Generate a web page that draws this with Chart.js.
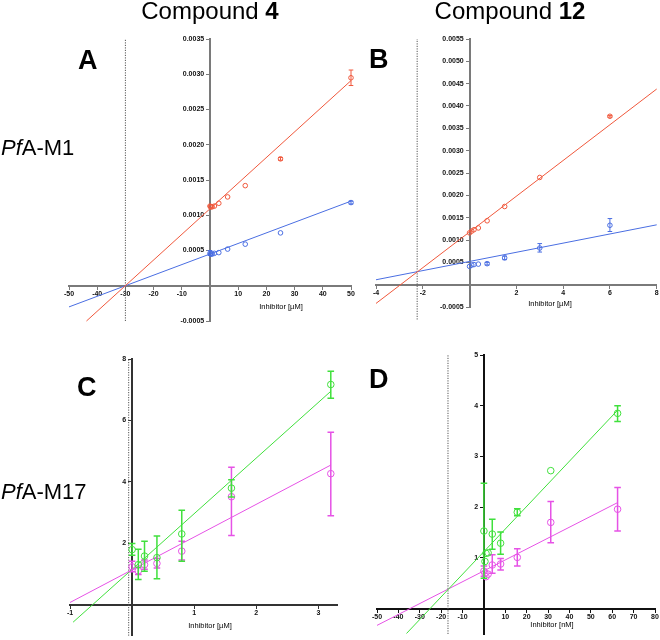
<!DOCTYPE html>
<html><head><meta charset="utf-8">
<script src="https://cdn.jsdelivr.net/npm/chart.js@4"></script>
<style>
html,body{margin:0;padding:0;background:#fff;}
#wrap{position:relative;width:660px;height:640px;overflow:hidden;font-family:"Liberation Sans",Arial,sans-serif;}
canvas{position:absolute;left:0;top:0;}
.t{position:absolute;white-space:nowrap;line-height:1;color:#000;}
</style></head><body>
<div id="wrap">
<canvas id="cA" width="660" height="640"></canvas>
<canvas id="cB" width="660" height="640"></canvas>
<canvas id="cC" width="660" height="640"></canvas>
<canvas id="cD" width="660" height="640"></canvas>
<div class="t" style="left:110px;top:-1px;width:200px;text-align:center;font-size:24px;">Compound <b>4</b></div>
<div class="t" style="left:410px;top:-1px;width:200px;text-align:center;font-size:24px;">Compound <b>12</b></div>
<div class="t" style="left:78px;top:47px;font-size:27px;font-weight:bold;">A</div>
<div class="t" style="left:369px;top:46px;font-size:27px;font-weight:bold;">B</div>
<div class="t" style="left:77px;top:374px;font-size:27px;font-weight:bold;">C</div>
<div class="t" style="left:369px;top:366px;font-size:27px;font-weight:bold;">D</div>
<div class="t" style="left:1px;top:137px;font-size:22px;"><i>Pf</i>A-M1</div>
<div class="t" style="left:1px;top:481px;font-size:22px;"><i>Pf</i>A-M17</div>
<div class="t" style="left:231px;top:303px;width:100px;text-align:center;font-size:7.5px;">Inhibitor [µM]</div>
<div class="t" style="left:500px;top:300px;width:100px;text-align:center;font-size:7.5px;">Inhibitor [µM]</div>
<div class="t" style="left:160px;top:622px;width:100px;text-align:center;font-size:7.5px;">Inhibitor [µM]</div>
<div class="t" style="left:502px;top:621px;width:100px;text-align:center;font-size:7.5px;">Inhibitor [nM]</div>
</div>
<script>
// ---------- Panel A: Compound 4, PfA-M1 ----------
const A_conc   = [0, 0.195, 0.39, 0.78, 1.5625, 3.125, 6.25, 12.5, 25, 50];
const A_red    = [0.00113, 0.00112, 0.00112, 0.00112, 0.00113, 0.00117, 0.00126, 0.00142, 0.00180, 0.00295];
const A_redLo  = [null, null, null, null, null, null, null, null, 0.00178, 0.00284];
const A_redHi  = [null, null, null, null, null, null, null, null, 0.00182, 0.00306];
const A_blue   = [0.00046, 0.00045, 0.00045, 0.00045, 0.00046, 0.00047, 0.00052, 0.00059, 0.00075, 0.00118];
const A_blueLo = [0.00043, null, null, null, null, null, null, null, null, 0.00116];
const A_blueHi = [0.00050, null, null, null, null, null, null, null, null, 0.00120];
const A_redFitX  = [-43.8, 50];
const A_redFitY  = [-0.0005, 0.00291];
const A_blueFitX = [-50, 50];
const A_blueFitY = [-0.0003, 0.0012];
const A_ki = -30;
const A_xTicks = [-50, -40, -30, -20, -10, 0, 10, 20, 30, 40, 50];
const A_yTicks = [-0.0005, 0, 0.0005, 0.001, 0.0015, 0.002, 0.0025, 0.003, 0.0035];

// ---------- Panel B: Compound 12, PfA-M1 ----------
const B_conc   = [0, 0.094, 0.1875, 0.375, 0.75, 1.5, 3, 6];
const B_red    = [0.00116, 0.00120, 0.00123, 0.00127, 0.00143, 0.00175, 0.00240, 0.00377];
const B_redLo  = [null, null, null, null, null, null, null, 0.00375];
const B_redHi  = [null, null, null, null, null, null, null, 0.00379];
const B_blue   = [0.00041, 0.00044, 0.00045, 0.00046, 0.00047, 0.00060, 0.00082, 0.00133];
const B_blueLo = [null, null, null, null, 0.00044, 0.00056, 0.00073, 0.00119];
const B_blueHi = [null, null, null, null, 0.00050, 0.00064, 0.00092, 0.00148];
const B_redFitX  = [-4, 8];
const B_redFitY  = [-0.00042, 0.00438];
const B_blueFitX = [-4, 8];
const B_blueFitY = [0.00011, 0.00134];
const B_ki = -2.24;
const B_xTicks = [-4, -2, 0, 2, 4, 6, 8];
const B_yTicks = [-0.0005, 0, 0.0005, 0.001, 0.0015, 0.002, 0.0025, 0.003, 0.0035, 0.004, 0.0045, 0.005, 0.0055];

// ---------- Panel C: Compound 4, PfA-M17 ----------
const C_conc   = [0, 0.1, 0.2, 0.4, 0.8, 1.6, 3.2];
const C_green  = [1.80, 1.31, 1.59, 1.54, 2.31, 3.80, 7.17];
const C_greenLo= [1.62, 0.83, 1.10, 0.85, 1.42, 3.51, 6.72];
const C_greenHi= [2.00, 1.81, 2.07, 2.24, 3.08, 4.07, 7.60];
const C_mag    = [1.24, 1.11, 1.31, 1.35, 1.75, 3.52, 4.27];
const C_magLo  = [1.08, 0.99, 1.16, 1.20, 1.46, 2.26, 2.90];
const C_magHi  = [1.42, 1.23, 1.46, 1.51, 2.07, 4.48, 5.62];
const C_greenFitX = [-0.95, 3.2];
const C_greenFitY = [-0.56, 6.95];
const C_magFitX   = [-1, 3.2];
const C_magFitY   = [0.08, 4.55];
const C_ki = -0.055;
const C_xTicks = [-1, 0, 1, 2, 3];
const C_yTicks = [0, 2, 4, 6, 8];

// ---------- Panel D: Compound 12, PfA-M17 ----------
const D_conc   = [0, 0.49, 0.98, 1.95, 3.9, 7.8, 15.6, 31.25, 62.5];
const D_green  = [1.53, 0.93, 1.09, 1.10, 1.47, 1.29, 1.90, 2.72, 3.85];
const D_greenLo= [0.60, null, null, null, 1.17, 1.07, 1.83, null, 3.69];
const D_greenHi= [2.47, null, null, null, 1.76, 1.51, 1.97, null, 4.00];
const D_mag    = [0.74, 0.70, 0.63, 0.68, 0.86, 0.88, 1.01, 1.70, 1.96];
const D_magLo  = [0.64, null, null, null, 0.70, 0.76, 0.84, 1.30, 1.53];
const D_magHi  = [0.84, null, null, null, 1.06, 0.99, 1.18, 2.11, 2.39];
const D_greenFitX = [-36.2, 62.5];
const D_greenFitY = [-0.49, 3.91];
const D_magFitX   = [-50, 62.5];
const D_magFitY   = [-0.33, 2.09];
const D_ki = -16.8;
const D_xTicks = [-50, -40, -30, -20, -10, 0, 10, 20, 30, 40, 50, 60, 70, 80];
const D_yTicks = [0, 1, 2, 3, 4, 5];

// ---------- styling ----------
const RED = '#f0583c', BLUE = '#4a6ee2', GREEN = '#40e03c', MAG = '#e652e6';
const FONT = {family: '"Liberation Sans", Arial, sans-serif', size: 7, weight: 'bold'};

const pts = (xs, ys) => xs.map((x, i) => ({x, y: ys[i]}));

const errorBars = {
  id: 'errorBars',
  beforeDatasetDraw(chart, args) {
    const ds = chart.data.datasets[args.index];
    if (!ds.errLo) return;
    const {ctx} = chart, xs = chart.scales.x, ys = chart.scales.y;
    const cap = ds.errCap || 3;
    ctx.save();
    ctx.strokeStyle = ds.borderColor;
    ctx.lineWidth = ds.errWidth || 1;
    ds.data.forEach((p, i) => {
      const lo = ds.errLo[i], hi = ds.errHi[i];
      if (lo == null || hi == null) return;
      const px = xs.getPixelForValue(p.x), pl = ys.getPixelForValue(lo), ph = ys.getPixelForValue(hi);
      ctx.beginPath();
      ctx.moveTo(px, pl); ctx.lineTo(px, ph);
      ctx.moveTo(px - cap, pl); ctx.lineTo(px + cap, pl);
      ctx.moveTo(px - cap, ph); ctx.lineTo(px + cap, ph);
      ctx.stroke();
    });
    ctx.restore();
  }
};

function zeroFit(s) { s.paddingLeft = s.paddingRight = s.paddingTop = s.paddingBottom = 0; }

function makeAxis(axis, min, max, tickVals, fmt, color, width) {
  return {
    type: 'linear', min, max,
    position: axis === 'x' ? {y: 0} : {x: 0},
    afterBuildTicks: s => { s.ticks = tickVals.map(v => ({value: v})); },
    afterFit: s => { if (axis === 'x') s.height = 0; else s.width = 0; zeroFit(s); },
    grid: {drawOnChartArea: false, drawTicks: true, tickLength: 3, color, lineWidth: 1},
    border: {display: true, color, width},
    ticks: {
      autoSkip: false, maxRotation: 0, minRotation: 0, padding: 1,
      font: FONT, color: '#111',
      // y labels sit right-aligned on the axis line; trailing spaces leave room for the tick mark
      callback: v => (Math.abs(v) < 1e-12 ? '' : (axis === 'y' ? fmt(v) + '   ' : fmt(v)))
    }
  };
}

function makeChart(id, pad, xr, yr, xTicks, yTicks, xfmt, yfmt, axColor, axWidth, series, ki, kiY, radius, errW) {
  const datasets = [];
  datasets.push({
    data: pts([ki, ki], kiY), showLine: true, pointRadius: 0, borderColor: '#555',
    borderWidth: 1, borderDash: [1.2, 1.3], clip: false, order: 5
  });
  series.forEach(s => {
    datasets.push({data: pts(s.fitX, s.fitY), showLine: true, pointRadius: 0,
      borderColor: s.color, borderWidth: 1, clip: false, order: 4});
  });
  series.forEach(s => {
    datasets.push({data: pts(s.x, s.y), showLine: false, pointRadius: radius, pointHoverRadius: radius,
      pointStyle: 'circle', borderColor: s.color, pointBorderColor: s.color, pointBackgroundColor: 'rgba(255,255,255,0)',
      pointBorderWidth: 1, errLo: s.lo, errHi: s.hi, errWidth: errW, errCap: radius, clip: false, order: 1});
  });
  return new Chart(document.getElementById(id), {
    type: 'scatter',
    data: {datasets},
    options: {
      responsive: false, animation: false, events: [],
      layout: {padding: pad},
      plugins: {legend: {display: false}, tooltip: {enabled: false}},
      scales: {
        x: makeAxis('x', xr[0], xr[1], xTicks, xfmt, axColor, axWidth),
        y: makeAxis('y', yr[0], yr[1], yTicks, yfmt, axColor, axWidth)
      }
    },
    plugins: [errorBars]
  });
}

const intFmt = v => String(Math.round(v));
const f4 = v => v.toFixed(4);

makeChart('cA', {left: 69, right: 309, top: 39, bottom: 319}, [-50, 50], [-0.0005, 0.0035],
  A_xTicks, A_yTicks, intFmt, f4, '#7a7a7a', 2,
  [{x: A_conc, y: A_red, lo: A_redLo, hi: A_redHi, fitX: A_redFitX, fitY: A_redFitY, color: RED},
   {x: A_conc, y: A_blue, lo: A_blueLo, hi: A_blueHi, fitX: A_blueFitX, fitY: A_blueFitY, color: BLUE}],
  A_ki, [-0.0005, 0.0035], 2.3, 1);

makeChart('cB', {left: 376, right: 3, top: 39, bottom: 333}, [-4, 8], [-0.0005, 0.0055],
  B_xTicks, B_yTicks, intFmt, f4, '#7a7a7a', 2,
  [{x: B_conc, y: B_red, lo: B_redLo, hi: B_redHi, fitX: B_redFitX, fitY: B_redFitY, color: RED},
   {x: B_conc, y: B_blue, lo: B_blueLo, hi: B_blueHi, fitX: B_blueFitX, fitY: B_blueFitY, color: BLUE}],
  B_ki, [-0.00078, 0.0055], 2.3, 1);

makeChart('cC', {left: 70, right: 323, top: 359, bottom: 0}, [-1, 3.3], [-1, 8],
  C_xTicks, C_yTicks, intFmt, intFmt, '#333', 2,
  [{x: C_conc, y: C_green, lo: C_greenLo, hi: C_greenHi, fitX: C_greenFitX, fitY: C_greenFitY, color: GREEN},
   {x: C_conc, y: C_mag, lo: C_magLo, hi: C_magHi, fitX: C_magFitX, fitY: C_magFitY, color: MAG}],
  C_ki, [-1, 8], 3.3, 1.5);

makeChart('cD', {left: 377, right: 5, top: 355, bottom: 6}, [-50, 80], [-0.5, 5],
  D_xTicks, D_yTicks, intFmt, intFmt, '#111', 2,
  [{x: D_conc, y: D_green, lo: D_greenLo, hi: D_greenHi, fitX: D_greenFitX, fitY: D_greenFitY, color: GREEN},
   {x: D_conc, y: D_mag, lo: D_magLo, hi: D_magHi, fitX: D_magFitX, fitY: D_magFitY, color: MAG}],
  D_ki, [-0.5, 5], 3.3, 1.5);
</script>
</body></html>
